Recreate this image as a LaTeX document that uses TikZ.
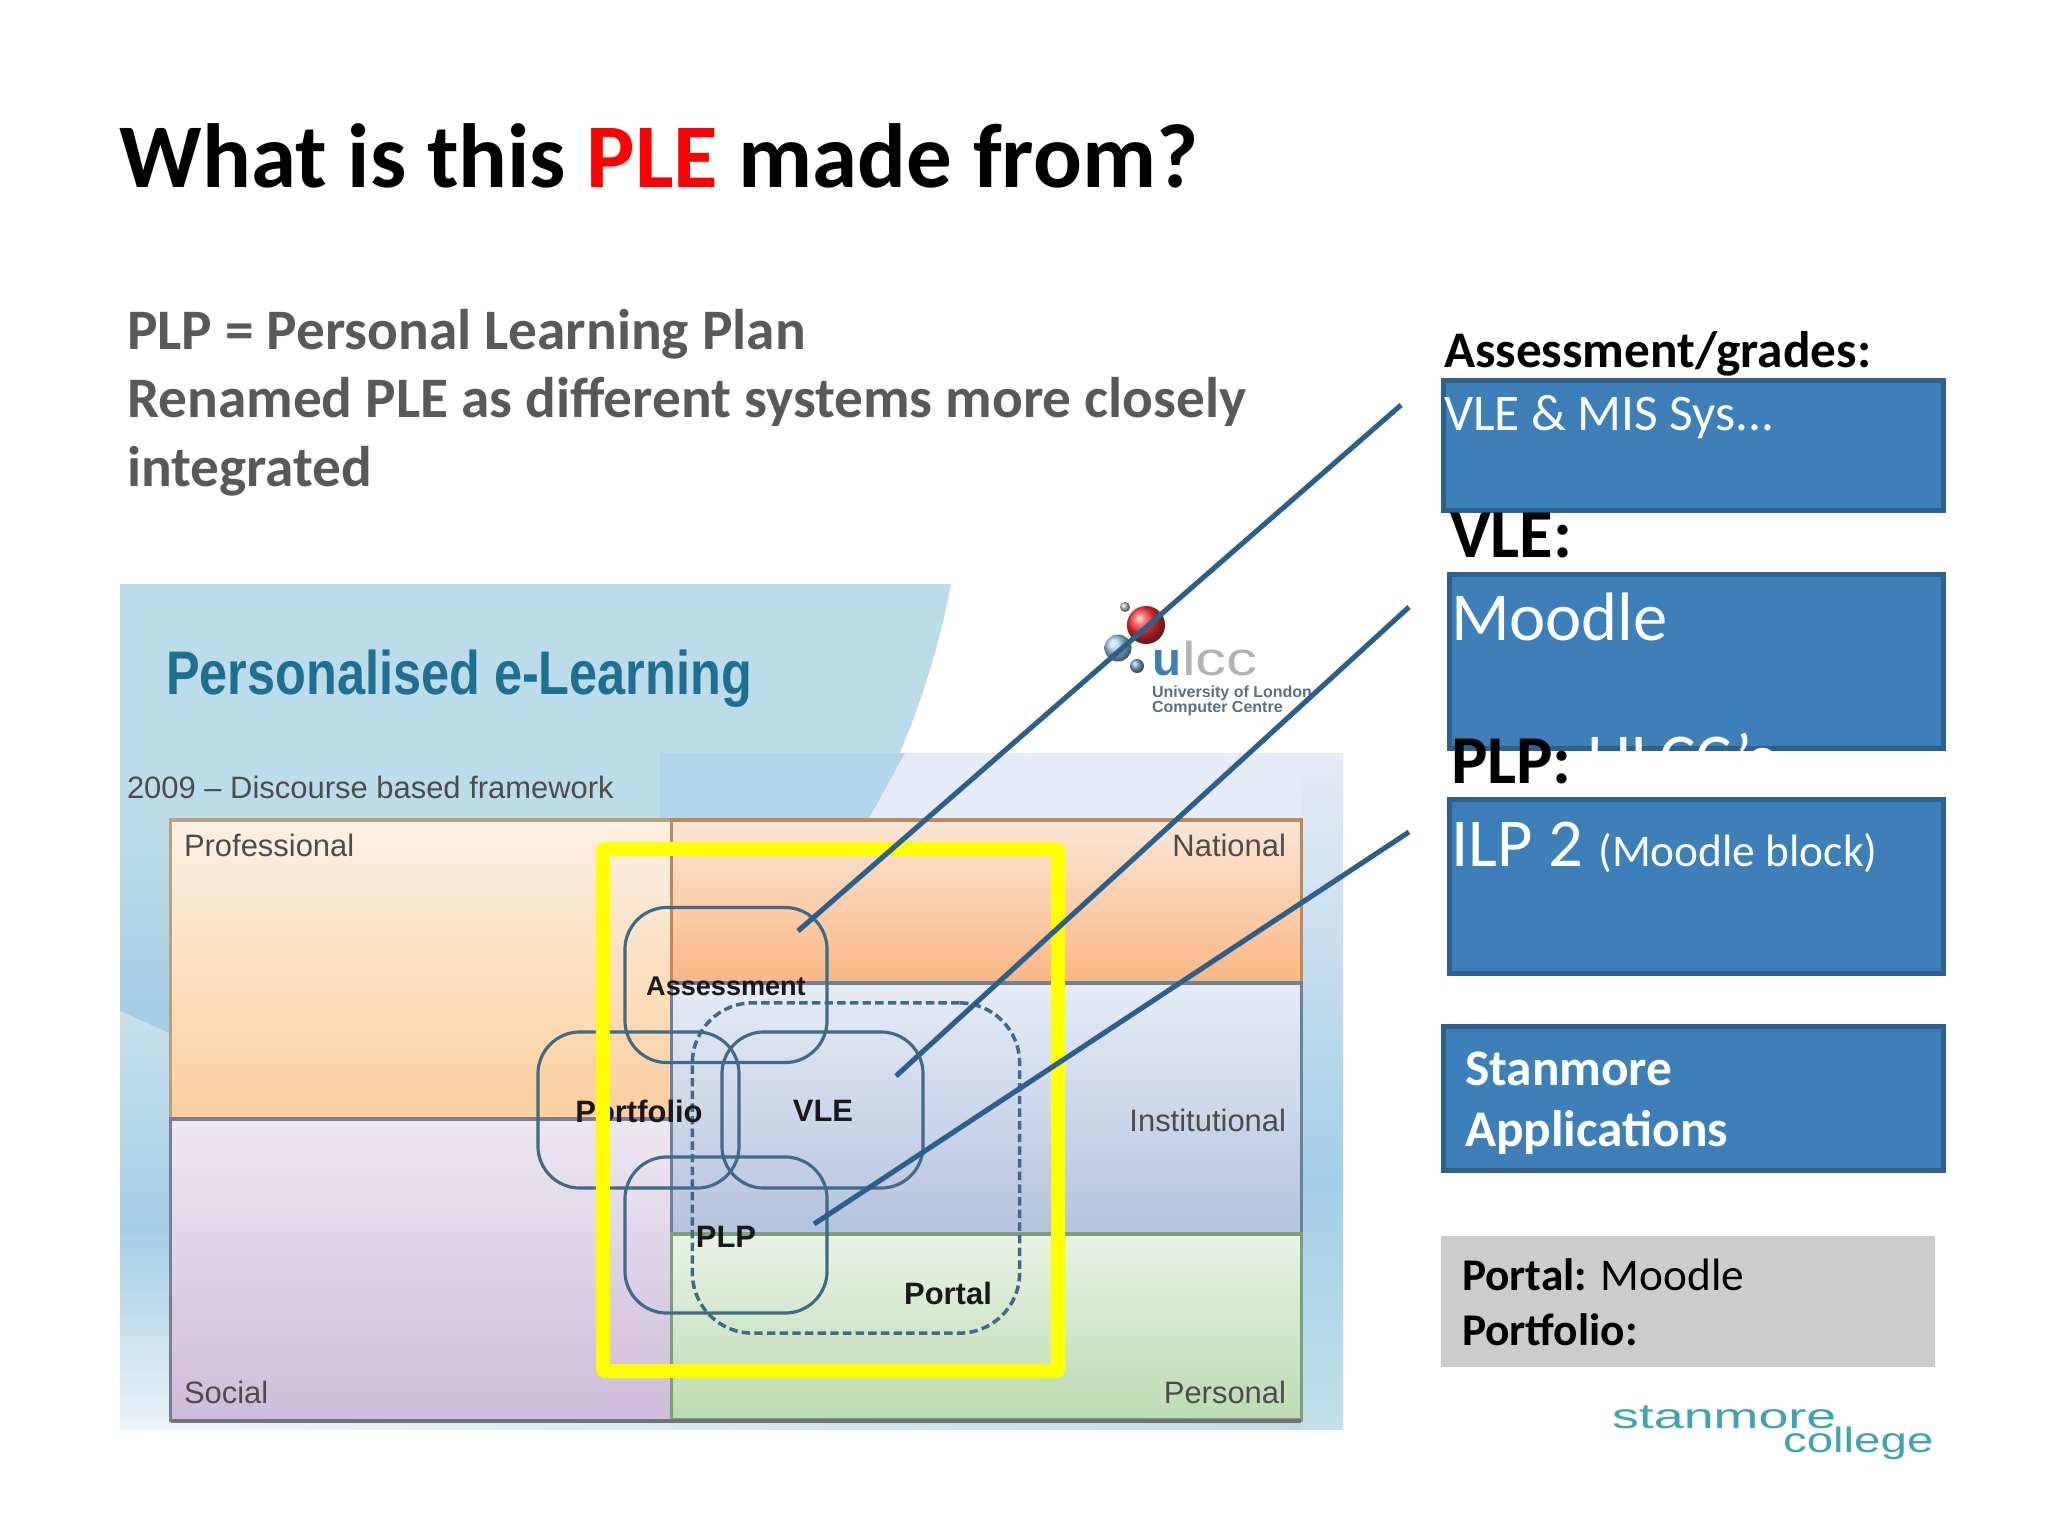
\documentclass[tikz,border=0pt]{standalone}
\usepackage{fontspec}
\setmainfont{Carlito}
\newfontfamily\photofont{Liberation Sans}
\usetikzlibrary{shapes, backgrounds}

\definecolor{boxfill}{HTML}{3C7FB9}
\definecolor{boxedge}{HTML}{2E6090}
\definecolor{leadline}{HTML}{2B5F8C}
\definecolor{plered}{HTML}{FF0000}
\definecolor{bodygrey}{HTML}{595959}
\definecolor{roundedge}{HTML}{3F6B86}
\definecolor{markyellow}{HTML}{FFFF00}
\definecolor{logoteal}{HTML}{3DA5B2}
\definecolor{headblue}{HTML}{1E7091}
\definecolor{skyblue}{HTML}{BDDCE9}
\definecolor{skydeep}{HTML}{A5CEE6}
\definecolor{panelblue}{HTML}{E5ECF7}
\definecolor{ulcctext}{HTML}{587080}

\begin{document}
\begin{tikzpicture}[x=0.01cm, y=-0.01cm,
  every node/.style={inner sep=0, outer sep=0},
  bluebox/.style={draw=boxedge, line width=1.4pt, fill=boxfill},
  cell/.style={line width=0.9pt},
  headlabel/.style={anchor=base west, font=\fontsize{14.6}{17}\selectfont\bfseries},
  boxtext/.style={anchor=base west, text=white, font=\fontsize{14.6}{17}\selectfont},
  gridlabel/.style={font=\photofont\fontsize{8.8}{10}\selectfont, text=black!70},
  partlabel/.style={font=\photofont\fontsize{8.8}{10}\selectfont\bfseries, text=black!90},
  partbox/.style={draw=roundedge, line width=0.9pt, rounded corners=0.42cm},
  leader/.style={draw=leadline, line width=1.45pt}];

\useasboundingbox (0, 0) rectangle (2048, 1536);

% slide text
\node (title) at (120, 187) [anchor=base west, font=\fontsize{25.9}{30}\selectfont\bfseries]
  {What is this \textcolor{plered}{PLE} made from?};
\node (intro) at (127, 309) [anchor=north west, align=left, text=bodygrey,
  font=\fontsize{16.3}{19.5}\selectfont\bfseries]
  {PLP = Personal Learning Plan\\Renamed PLE as different systems more closely\\integrated};

% photo backdrop
\fill[panelblue] (860, 753) rectangle (1343, 1429);
\shade[top color=panelblue, bottom color=skydeep] (1301, 753) rectangle (1343, 1180);
\shade[top color=skydeep, bottom color=skyblue!90] (1301, 1180) rectangle (1343, 1429);
\fill[skyblue] (120, 584) -- (951, 584) .. controls (935, 670) and (905, 750) .. (868, 820)
  -- (171, 820) -- (171, 1034) -- (120, 1011) -- cycle;
\shade[top color=skyblue, bottom color=skydeep] (120, 820) rectangle (171, 1011);
\fill[skydeep] (120, 1011) -- (171, 1034) -- (171, 1011) -- cycle;
\shade[top color=skyblue!85, bottom color=skydeep] (120, 1011) -- (171, 1034) -- (171, 1230) -- (120, 1230) -- cycle;
\shade[top color=skydeep, bottom color=skyblue!30] (120, 1230) rectangle (171, 1429);
\fill[skydeep!85!white] (660, 753) -- (905, 753) -- (868, 820) -- (660, 820) -- cycle;
\shade[left color=skyblue!30, right color=skyblue] (171, 1420) rectangle (1301, 1429);

% framework cells
\definecolor{edgeprof}{HTML}{B8A080}
\definecolor{edgesocial}{HTML}{7E7A90}
\definecolor{edgenat}{HTML}{B88A5E}
\definecolor{edgeinst}{HTML}{6E8096}
\definecolor{edgepers}{HTML}{7E9E80}
\definecolor{socialtop}{HTML}{EDE7F1}
\definecolor{socialend}{HTML}{CDBCDA}
\definecolor{instend}{HTML}{B4C3DD}
\definecolor{perstop}{HTML}{E9F3E5}
\definecolor{persend}{HTML}{BADCB0}
\definecolor{proftop}{HTML}{FDF1E4}
\definecolor{profend}{HTML}{FBCF9E}
\definecolor{nattop}{HTML}{FBE6D6}
\definecolor{natend}{HTML}{FBB783}
\node (professional) at (421.5, 969.5) [cell, draw=edgeprof, minimum width=5.01cm, minimum height=2.99cm,
  top color=proftop, bottom color=profend] {};
\node (social) at (421.5, 1269.5) [cell, draw=edgesocial, minimum width=5.01cm, minimum height=3.01cm,
  top color=socialtop, bottom color=socialend] {};
\node (national) at (986.5, 901.5) [cell, draw=edgenat, minimum width=6.29cm, minimum height=1.63cm,
  top color=nattop, bottom color=natend] {};
\node (institutional) at (986.5, 1108.5) [cell, draw=edgeinst, minimum width=6.29cm, minimum height=2.51cm,
  top color=panelblue, bottom color=instend] {};
\node (personal) at (986.5, 1327) [cell, draw=edgepers, minimum width=6.29cm, minimum height=1.86cm,
  top color=perstop, bottom color=persend] {};
\coordinate (baseLeft) at (171, 1421);
\coordinate (baseRight) at (1301, 1421);
\path[draw=black!55, line width=1pt] (baseLeft) edge (baseRight);

% photo text
\node (heading) at (166, 694) [anchor=base west, xscale=0.82, text=headblue,
  font=\photofont\fontsize{17.5}{20}\selectfont\bfseries] {Personalised e-Learning};
\node (framework) at (127, 798) [anchor=base west, gridlabel] {2009 – Discourse based framework};
\node (labelProfessional) at (184, 856) [anchor=base west, gridlabel] {Professional};
\node (labelNational) at (1286, 856) [anchor=base east, gridlabel] {National};
\node (labelInstitutional) at (1286, 1131) [anchor=base east, gridlabel] {Institutional};
\node (labelSocial) at (184, 1403) [anchor=base west, gridlabel] {Social};
\node (labelPersonal) at (1286, 1403) [anchor=base east, gridlabel] {Personal};

% ulcc logo
\node (ballTiny) at (1125, 607) [circle, minimum size=0.10cm, ball color=gray!60] {};
\node (ballBlue) at (1118, 648) [circle, minimum size=0.27cm, ball color=skydeep] {};
\node (ballSmall) at (1137, 666) [circle, minimum size=0.14cm, ball color=boxfill!70] {};
\node (ballRed) at (1146, 625) [circle, minimum size=0.38cm, ball color=red!80!white] {};
\node (ulccU) at (1152, 675) [anchor=base west, text=boxfill,
  font=\photofont\fontsize{13.5}{14}\selectfont\bfseries] {u};
\node (ulccRest) at (1182, 675) [anchor=base west, xscale=1.3, text=white!70!black,
  font=\photofont\fontsize{13.5}{14}\selectfont] {lcc};
\node (ulccOne) at (1152, 697) [anchor=base west, text=ulcctext,
  font=\photofont\fontsize{4.55}{5}\selectfont\bfseries] {University of London};
\node (ulccTwo) at (1152, 712) [anchor=base west, text=ulcctext,
  font=\photofont\fontsize{4.55}{5}\selectfont\bfseries] {Computer Centre};

% overlapping parts
\node (assessment) at (726, 985) [partbox, minimum width=2.02cm, minimum height=1.55cm] {};
\node (portfolio) at (638.5, 1110) [partbox, minimum width=2.01cm, minimum height=1.56cm] {};
\node (vle) at (822.5, 1110) [partbox, minimum width=2.01cm, minimum height=1.56cm] {};
\node (plp) at (726, 1235) [partbox, minimum width=2.02cm, minimum height=1.56cm] {};
\node (portal) at (856, 1168) [draw=roundedge, line width=1pt, dash pattern=on 2.4pt off 1.2pt, rounded corners=0.6cm,
  minimum width=3.27cm, minimum height=3.30cm] {};
\node (labelAssessment) at (726, 986) [partlabel, font=\photofont\fontsize{7.7}{10}\selectfont\bfseries] {Assessment};
\node (labelPortfolio) at (639, 1111) [partlabel] {Portfolio};
\node (labelVle) at (823, 1111) [partlabel] {VLE};
\node (labelPlp) at (726, 1237) [partlabel] {PLP};
\node (labelPortal) at (948, 1293) [partlabel] {Portal};

\node (marker) at (830.5, 1110) [draw=markyellow, line width=4pt, rounded corners=0.03cm,
  minimum width=4.55cm, minimum height=5.22cm] {};

% right hand column
\node (assessBox) at (1693.5, 445.5) [bluebox, minimum width=5.00cm, minimum height=1.30cm] {};
\node (vleBox) at (1696.5, 661.5) [bluebox, minimum width=4.94cm, minimum height=1.74cm] {};
\node (hiddenUlcc) at (1587, 781) [boxtext, font=\fontsize{19.5}{24}\selectfont] {ULCC’s};
\node (plpBox) at (1696.5, 886.5) [bluebox, minimum width=4.94cm, minimum height=1.74cm] {};
\node (stanmoreBox) at (1693.5, 1098.5) [bluebox, minimum width=5.00cm, minimum height=1.44cm] {};
\node (greyBox) at (1688, 1301.5) [fill=black!20, minimum width=4.94cm, minimum height=1.31cm] {};

\node (assessHead) at (1444, 367) [headlabel] {Assessment/grades:};
\node (assessText) at (1444, 430) [boxtext] {VLE \& MIS Sys...};
\node (vleHead) at (1450, 557) [headlabel, font=\fontsize{19.5}{24}\selectfont\bfseries] {VLE:};
\node (vleText) at (1451, 640) [boxtext, font=\fontsize{19.5}{24}\selectfont] {Moodle};
\node (plpHead) at (1451, 783) [headlabel, font=\fontsize{19.5}{24}\selectfont\bfseries] {PLP:};
\node (plpText) at (1451, 866) [boxtext, font=\fontsize{19.5}{24}\selectfont]
  {ILP 2 {\fontsize{12.9}{17}\selectfont (Moodle block)}};
\node (stanmoreText) at (1465, 1085) [boxtext, font=\fontsize{14.6}{17.4}\selectfont\bfseries] {Stanmore};
\node (stanmoreTwo) at (1465, 1146) [boxtext, font=\fontsize{14.6}{17.4}\selectfont\bfseries] {Applications};
\node (portalText) at (1462, 1290) [anchor=base west, font=\fontsize{12.9}{16}\selectfont]
  {\textbf{Portal:} Moodle};
\node (portfolioText) at (1462, 1345) [anchor=base west, font=\fontsize{12.9}{16}\selectfont\bfseries] {Portfolio:};

% college logo
\node (logoOne) at (1612, 1428) [anchor=base west, xscale=1.53, text=logoteal,
  font=\photofont\fontsize{10}{12}\selectfont] {stanmore};
\node (logoTwo) at (1783, 1452) [anchor=base west, xscale=1.35, text=logoteal,
  font=\photofont\fontsize{10}{12}\selectfont] {college};

% leader lines
\coordinate (assessFrom) at (1401, 405);
\coordinate (assessTo) at (798, 931);
\coordinate (vleFrom) at (1409, 607);
\coordinate (vleTo) at (896, 1076);
\coordinate (plpFrom) at (1409, 832);
\coordinate (plpTo) at (814, 1224);
\path[leader] (assessFrom) edge (assessTo);
\path[leader] (vleFrom) edge (vleTo);
\path[leader] (plpFrom) edge (plpTo);

\end{tikzpicture}
\end{document}
